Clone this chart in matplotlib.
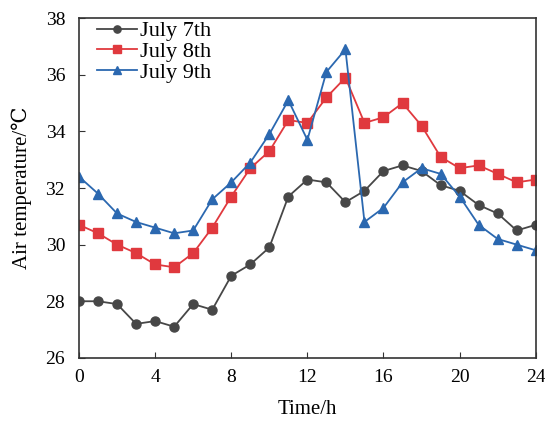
"""
hourly air temperature, three July days
"""
import matplotlib.pyplot as plt

plt.rcParams["font.family"] = ["Liberation Serif", "DejaVu Serif"]

hours = list(range(25))
july_7 = [28.0, 28.0, 27.9, 27.2, 27.3, 27.1, 27.9, 27.7, 28.9, 29.3, 29.9, 31.7, 32.3,
          32.2, 31.5, 31.9, 32.6, 32.8, 32.6, 32.1, 31.9, 31.4, 31.1, 30.5, 30.7]
july_8 = [30.7, 30.4, 30.0, 29.7, 29.3, 29.2, 29.7, 30.6, 31.7, 32.7, 33.3, 34.4, 34.3,
          35.2, 35.9, 34.3, 34.5, 35.0, 34.2, 33.1, 32.7, 32.8, 32.5, 32.2, 32.3]
july_9 = [32.4, 31.8, 31.1, 30.8, 30.6, 30.4, 30.5, 31.6, 32.2, 32.9, 33.9, 35.1, 33.7,
          36.1, 36.9, 30.8, 31.3, 32.2, 32.7, 32.5, 31.7, 30.7, 30.2, 30.0, 29.8]

series = [
    ("July 7th", july_7, "#474747", "o"),
    ("July 8th", july_8, "#e0393e", "s"),
    ("July 9th", july_9, "#2b68b0", "^"),
]


def main():
    fig = plt.figure(figsize=(5.45, 4.23), dpi=100)
    ax = fig.add_axes([0.145, 0.154, 0.838, 0.803])

    for label, values, color, marker in series:
        ax.plot(hours, values, color=color, marker=marker, markersize=6.5,
                linewidth=1.3, label=label)

    ax.set_xlim(0, 24)
    ax.set_ylim(26, 38)
    ax.set_xticks(range(0, 25, 4))
    ax.set_yticks(range(26, 39, 2))
    ax.tick_params(direction="in", labelsize=14, length=4, color="#333333")
    ax.tick_params(axis="x", pad=8)
    ax.tick_params(axis="y", pad=10)
    for spine in ax.spines.values():
        spine.set_color("#333333")
        spine.set_linewidth(1.2)

    ax.set_xlabel("Time/h", fontsize=15, labelpad=10)
    ax.set_ylabel("Air temperature/\u2103", fontsize=15, labelpad=10)

    ax.legend(loc="upper left", bbox_to_anchor=(0.039, 0.992), frameon=False,
              fontsize=16, handlelength=1.8, borderaxespad=0, labelspacing=0.0,
              handletextpad=0.15, borderpad=0, markerscale=0.8)

    fig.savefig("out.png", dpi=100)


if __name__ == "__main__":
    main()
